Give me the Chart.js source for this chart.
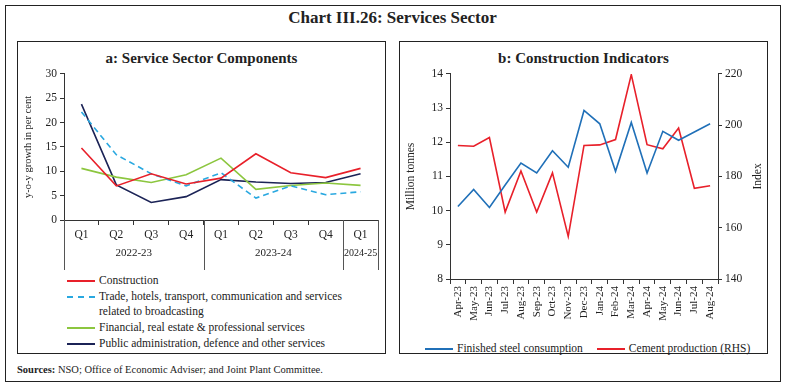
<!DOCTYPE html>
<html>
<head>
<meta charset="utf-8">
<script src="https://cdn.jsdelivr.net/npm/chart.js@4.4.1/dist/chart.umd.min.js"></script>
<style>
  body { margin: 0; width: 785px; height: 388px; background: #fff; font-family: "Liberation Serif", serif; color: #222; position: relative; overflow: hidden; }
  .box { position: absolute; box-sizing: border-box; border: 1px solid #222; }
  .abs { position: absolute; }
  .ptitle { position: absolute; width: 100%; text-align: center; font-weight: bold; font-size: 15px; top: 8px; }
  .leg { position: absolute; font-size: 11.5px; line-height: 15px; }
  .leg .row { display: flex; align-items: flex-start; }
  .leg .swatch { width: 28px; height: 0; margin-top: 7px; margin-right: 4px; flex: none; }
  .nowrap { white-space: nowrap; }
</style>
</head>
<body>
<div class="box" style="left:5px;top:5px;width:776px;height:377px;"></div>
<div class="abs" style="left:0;top:8px;width:785px;text-align:center;font-size:17px;font-weight:bold;">Chart III.26: Services Sector</div>

<div class="box" style="left:17px;top:41px;width:369px;height:313px;">
  <div class="ptitle">a: Service Sector Components</div>
</div>
<div class="box" style="left:399px;top:41px;width:369px;height:313px;">
  <div class="ptitle">b: Construction Indicators</div>
</div>

<div class="abs" style="left:18px;top:64px;width:366px;height:208px;"><canvas id="chartA"></canvas></div>
<div class="abs" style="left:400px;top:64px;width:366px;height:274px;"><canvas id="chartB"></canvas></div>

<div class="leg" style="left:67px;top:273px;width:300px;">
  <div class="row"><span class="swatch" style="border-top:2px solid #e8202a"></span><span>Construction</span></div>
  <div class="row" style="margin-top:1px"><span class="swatch" style="border-top:2px dashed #29a8e0"></span><span>Trade, hotels, transport, communication and services related to broadcasting</span></div>
  <div class="row" style="margin-top:1px"><span class="swatch" style="border-top:2px solid #8cc63f"></span><span>Financial, real estate &amp; professional services</span></div>
  <div class="row" style="margin-top:1px"><span class="swatch" style="border-top:2px solid #1b2356"></span><span>Public administration, defence and other services</span></div>
</div>

<div class="leg" style="left:425px;top:341px;width:340px;">
  <div class="row nowrap"><span class="swatch" style="border-top:2px solid #2070b8"></span><span class="nowrap">Finished steel consumption</span>
  <span class="swatch" style="border-top:2px solid #e8202a;margin-left:14px"></span><span class="nowrap">Cement production (RHS)</span></div>
</div>

<div class="abs" style="left:17px;top:364px;font-size:10.5px;"><b>Sources:</b> NSO; Office of Economic Adviser; and Joint Plant Committee.</div>

<script>
// panel a: quarterly y-o-y growth (per cent)
const quarters = ["Q1", "Q2", "Q3", "Q4", "Q1", "Q2", "Q3", "Q4", "Q1"];
const years = ["2022-23", "2023-24", "2024-25"];
const quartersPerYear = [4, 4, 1];
const construction = [14.8, 7.0, 9.5, 7.4, 8.6, 13.6, 9.7, 8.7, 10.6];
const trade = [22.2, 13.4, 9.5, 7.0, 9.7, 4.5, 7.0, 5.2, 5.8];
const financial = [10.6, 8.8, 7.7, 9.3, 12.7, 6.3, 7.1, 7.6, 7.1];
const publicAdmin = [23.8, 7.2, 3.6, 4.8, 8.3, 7.8, 7.5, 7.7, 9.5];

// panel b: monthly construction indicators
const months = ["Apr-23", "May-23", "Jun-23", "Jul-23", "Aug-23", "Sep-23", "Oct-23", "Nov-23", "Dec-23",
  "Jan-24", "Feb-24", "Mar-24", "Apr-24", "May-24", "Jun-24", "Jul-24", "Aug-24"];
const steel = [10.12, 10.62, 10.09, 10.75, 11.39, 11.1, 11.75, 11.27, 12.93, 12.54, 11.15, 12.58, 11.1, 12.32, 12.06, 12.3, 12.54];
const cement = [192.1, 191.8, 195.2, 166.1, 182.1, 166.1, 181.4, 156.6, 192.1, 192.3, 194.4, 219.7, 192.4, 190.8, 198.9, 175.4, 176.4];

const FONT = "'Liberation Serif', serif";
Chart.defaults.font.family = FONT;
Chart.defaults.font.size = 11.5;
Chart.defaults.color = "#222";
Chart.defaults.animation = false;
Chart.defaults.maintainAspectRatio = false;
Chart.defaults.responsive = true;

const axisGrid = { drawOnChartArea: false, drawTicks: true, tickLength: 5, color: "#333" };
const axisBorder = { display: true, color: "#333", width: 1 };

// year group labels + separators under the quarter axis
const yearGroups = {
  id: "yearGroups",
  afterDraw(chart) {
    const xs = chart.scales.x, area = chart.chartArea, ctx = chart.ctx;
    const edges = [area.left];
    let idx = 0;
    quartersPerYear.forEach((n, i) => {
      const last = idx + n - 1;
      idx += n;
      const right = idx < quarters.length
        ? (xs.getPixelForValue(last) + xs.getPixelForValue(idx)) / 2
        : area.right;
      edges.push(right);
      ctx.save();
      ctx.fillStyle = "#222";
      ctx.font = (n === 1 ? "10px " : "11px ") + FONT;
      ctx.textAlign = "center";
      ctx.textBaseline = "middle";
      ctx.fillText(years[i], (edges[i] + right) / 2, area.bottom + 33);
      ctx.restore();
    });
    ctx.save();
    ctx.strokeStyle = "#555";
    ctx.lineWidth = 1;
    edges.forEach(x => {
      const px = Math.round(x) + 0.5;
      ctx.beginPath();
      ctx.moveTo(px, area.bottom);
      ctx.lineTo(px, area.bottom + 50);
      ctx.stroke();
    });
    ctx.restore();
  }
};

// right-axis title that reads bottom-to-top like the left one
const rhsTitle = {
  id: "rhsTitle",
  afterDraw(chart) {
    const area = chart.chartArea, ctx = chart.ctx;
    ctx.save();
    ctx.translate(area.right + 40, (area.top + area.bottom) / 2);
    ctx.rotate(-Math.PI / 2);
    ctx.fillStyle = "#222";
    ctx.font = "11.5px " + FONT;
    ctx.textAlign = "center";
    ctx.textBaseline = "middle";
    ctx.fillText("Index", 0, 0);
    ctx.restore();
  }
};

new Chart(document.getElementById("chartA"), {
  type: "line",
  data: {
    labels: quarters,
    datasets: [
      { label: "Construction", data: construction, borderColor: "#e8202a" },
      { label: "Trade, hotels, transport, communication and services related to broadcasting", data: trade, borderColor: "#29a8e0", borderDash: [6, 4] },
      { label: "Financial, real estate & professional services", data: financial, borderColor: "#8cc63f" },
      { label: "Public administration, defence and other services", data: publicAdmin, borderColor: "#1b2356" }
    ].map(d => Object.assign({ borderWidth: 1.6, pointRadius: 0, tension: 0, fill: false }, d))
  },
  options: {
    layout: { padding: { top: 4, right: 6, left: 0, bottom: 0 } },
    plugins: { legend: { display: false }, tooltip: { enabled: false } },
    scales: {
      x: {
        offset: true,
        grid: Object.assign({}, axisGrid, { offset: true }),
        border: axisBorder,
        ticks: { padding: 3, maxRotation: 0, autoSkip: false },
        afterFit(s) { s.height = 52; }
      },
      y: {
        min: 0, max: 30,
        grid: Object.assign({}, axisGrid, { tickLength: 4 }),
        border: axisBorder,
        ticks: { stepSize: 5, padding: 3 },
        title: { display: true, text: "y-o-y growth in per cent", font: { size: 10.5 }, padding: { bottom: 4 } },
        afterFit(s) { s.width = 46; }
      }
    }
  },
  plugins: [yearGroups]
});

new Chart(document.getElementById("chartB"), {
  type: "line",
  data: {
    labels: months,
    datasets: [
      { label: "Finished steel consumption", data: steel, borderColor: "#2070b8", yAxisID: "y" },
      { label: "Cement production (RHS)", data: cement, borderColor: "#e8202a", yAxisID: "y1" }
    ].map(d => Object.assign({ borderWidth: 1.6, pointRadius: 0, tension: 0, fill: false }, d))
  },
  options: {
    layout: { padding: { top: 4, right: 0, left: 0, bottom: 0 } },
    plugins: { legend: { display: false }, tooltip: { enabled: false } },
    scales: {
      x: {
        offset: true,
        grid: Object.assign({}, axisGrid, { offset: true }),
        border: axisBorder,
        ticks: { minRotation: 90, maxRotation: 90, autoSkip: false, padding: 2, font: { size: 11 } },
        afterFit(s) { s.height = 59; }
      },
      y: {
        position: "left",
        min: 8, max: 14,
        grid: Object.assign({}, axisGrid, { tickLength: 4 }),
        border: axisBorder,
        ticks: { stepSize: 1, padding: 3 },
        title: { display: true, text: "Million tonnes", font: { size: 11.5 }, padding: { bottom: 6 } },
        afterFit(s) { s.width = 50; }
      },
      y1: {
        position: "right",
        min: 140, max: 220,
        grid: Object.assign({}, axisGrid, { tickLength: 4 }),
        border: axisBorder,
        ticks: { stepSize: 20, padding: 3 },
        afterFit(s) { s.width = 48; }
      }
    }
  },
  plugins: [rhsTitle]
});
</script>
</body>
</html>
